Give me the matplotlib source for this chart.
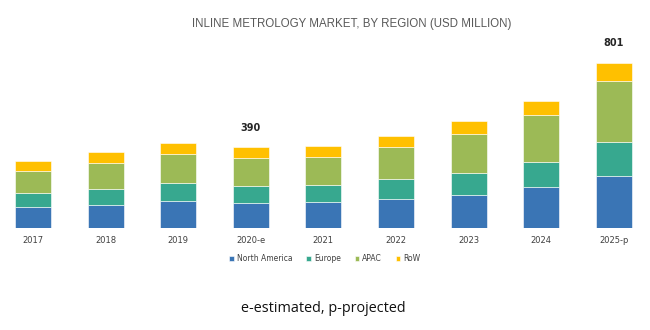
import matplotlib
matplotlib.use("Agg")
import matplotlib.pyplot as plt
import numpy as np

years = ["2017", "2018", "2019", "2020-e", "2021", "2022", "2023", "2024", "2025-p"]
north_america = [99, 112, 131, 122, 125, 141, 160, 196, 253]
europe = [70, 78, 88, 83, 83, 94, 107, 125, 165]
apac = [108, 126, 141, 136, 138, 159, 187, 227, 294]
row = [47, 50, 52, 49, 52, 52, 65, 68, 89]
labelled = {"2020-e": "390", "2025-p": "801"}

series = [("North America", north_america, "#3A75B5"),
          ("Europe", europe, "#37A88F"),
          ("APAC", apac, "#9CBA56"),
          ("RoW", row, "#FFC000")]

fig = plt.figure(figsize=(6.5, 3.3), dpi=100)
ax = fig.add_axes([0, 0.31, 1, 0.599])
x = np.arange(len(years))
bottom = np.zeros(len(years))
for name, vals, col in series:
    ax.bar(x, vals, width=0.496, bottom=bottom, color=col, label=name, edgecolor="white", linewidth=0.4)
    bottom += np.array(vals)

for i, y in enumerate(years):
    if y in labelled:
        ax.annotate(labelled[y], (x[i], bottom[i]), xytext=(0, 14), textcoords="offset points",
                    ha="center", va="center", fontsize=7, fontweight="bold", color="#262626",
                    family="DejaVu Sans")

ax.set_xlim(-0.4546, 8.4997)
ax.set_ylim(0, 961)
for s in ax.spines.values():
    s.set_visible(False)
ax.set_yticks([])
ax.set_xticks(x)
ax.set_xticklabels(years, fontsize=6, color="#404040", family="DejaVu Sans")
ax.tick_params(axis="x", length=0, pad=6)

fig.text(351.5 / 650, 1 - 24 / 330, "INLINE METROLOGY MARKET, BY REGION (USD MILLION)", ha="center", va="center",
         fontsize=8.3, color="#595959", family="Liberation Sans")

handles, labels = ax.get_legend_handles_labels()
fig.legend(handles, labels, loc="center", bbox_to_anchor=(0.5, 1 - 258.5 / 330), ncol=4, frameon=False,
           prop={"family": "DejaVu Sans", "size": 5.5}, handlelength=0.6, handleheight=0.6,
           handletextpad=0.4, columnspacing=1.8, labelcolor="#404040")

fig.text(323 / 650, 1 - 309 / 330, "e-estimated, p-projected", ha="center", va="center",
         fontsize=10.4, color="#111111", family="Open Sans")

fig.savefig("out.png", dpi=100)
